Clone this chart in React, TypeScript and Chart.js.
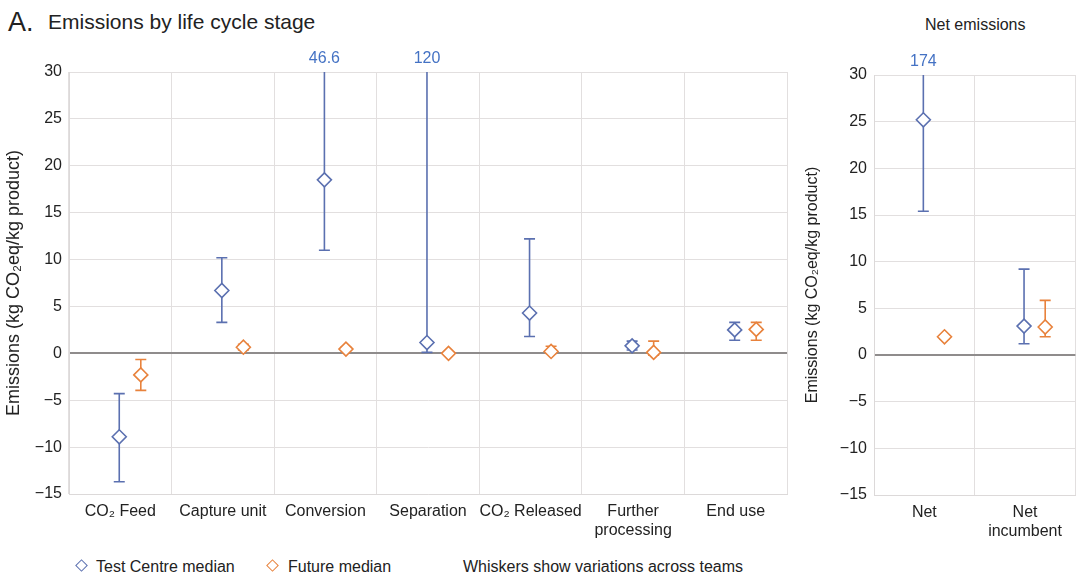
import React, { useEffect, useRef } from "react";
import { Chart, registerables } from "chart.js";
Chart.register(...registerables);

// ---------- Data ----------
const stageLabels = [["CO₂ Feed"], ["Capture unit"], ["Conversion"], ["Separation"], ["CO₂ Released"], ["Further", "processing"], ["End use"]];
const testMedian = [-8.9, 6.7, 18.5, 1.15, 4.3, 0.8, 2.5];
const testLow = [-13.7, 3.3, 11.0, 0.1, 1.8, 0.35, 1.4];
const testHigh = [-4.3, 10.2, 46.6, 120, 12.2, 1.3, 3.3];
const futureMedian = [-2.3, 0.65, 0.45, 0.0, 0.2, 0.1, 2.55];
const futureLow = [-3.95, 0.35, 0.3, -0.1, 0.0, -0.2, 1.4];
const futureHigh = [-0.65, 0.95, 0.65, 0.1, 0.75, 1.3, 3.3];

const netLabels = [["Net"], ["Net", "incumbent"]];
const netTestMedian = [25.2, 3.1];
const netTestLow = [15.4, 1.2];
const netTestHigh = [174, 9.2];
const netFutureMedian = [1.95, 3.0];
const netFutureLow = [1.75, 1.95];
const netFutureHigh = [2.15, 5.85];

const yMin = -15;
const yMax = 30;
const yStep = 5;

const BLUE = "#5b70b0";
const ORANGE = "#e8823c";
const LABEL_BLUE = "#4472c4";
const FONT = "'Liberation Sans', Arial, Helvetica, sans-serif";

Chart.defaults.font.family = FONT;

const whiskerPlugin = {
  id: "whiskers",
  beforeDatasetsDraw(chart: any) {
    const { ctx, chartArea, scales } = chart;
    const ys = scales.y;
    const xs = scales.xd;
    chart.data.datasets.forEach((ds: any) => {
      ds.data.forEach((pt: any) => {
        const px = xs.getPixelForValue(pt.x);
        const lo = Math.max(pt.low, yMin);
        const hi = Math.min(pt.high, yMax);
        const yLo = ys.getPixelForValue(lo);
        const yHi = ys.getPixelForValue(hi);
        ctx.save();
        ctx.strokeStyle = ds.borderColor;
        ctx.lineWidth = 1.6;
        ctx.beginPath();
        ctx.moveTo(px, yLo);
        ctx.lineTo(px, yHi);
        if (pt.low >= yMin) {
          ctx.moveTo(px - 5.5, yLo);
          ctx.lineTo(px + 5.5, yLo);
        }
        if (pt.high <= yMax) {
          ctx.moveTo(px - 5.5, yHi);
          ctx.lineTo(px + 5.5, yHi);
        }
        ctx.stroke();
        if (pt.high > yMax) {
          ctx.fillStyle = LABEL_BLUE;
          ctx.font = `16px ${FONT}`;
          ctx.textAlign = "center";
          ctx.textBaseline = "bottom";
          ctx.fillText(String(pt.high), px, chartArea.top - 5);
        }
        ctx.restore();
      });
    });
  },
};

function buildPoints(med: number[], low: number[], high: number[], offset: number) {
  return med.map((v, i) => ({ x: i + offset, y: v, low: low[i], high: high[i] }));
}

function makeConfig(
  labels: string[][],
  tMed: number[], tLow: number[], tHigh: number[],
  fMed: number[], fLow: number[], fHigh: number[],
  yWidth: number, xHeight: number, padTop: number, padRight: number, titleSize: number
): any {
  const n = labels.length;
  const pointStyle = {
    pointStyle: "rectRot",
    pointRadius: 7,
    pointBorderWidth: 1.6,
    pointBackgroundColor: "#ffffff",
    showLine: false,
    xAxisID: "xd",
    yAxisID: "y",
  };
  return {
    type: "scatter",
    data: {
      datasets: [
        { label: "Test Centre median", data: buildPoints(tMed, tLow, tHigh, 0.49), borderColor: BLUE, pointBorderColor: BLUE, ...pointStyle },
        { label: "Future median", data: buildPoints(fMed, fLow, fHigh, 0.7), borderColor: ORANGE, pointBorderColor: ORANGE, ...pointStyle },
      ],
    },
    options: {
      animation: false,
      responsive: false,
      devicePixelRatio: 1,
      layout: { padding: { top: padTop, right: padRight, left: 0, bottom: 0 } },
      plugins: { legend: { display: false }, tooltip: { enabled: false } },
      scales: {
        x: {
          type: "category",
          labels: labels,
          offset: true,
          position: "bottom",
          grid: { offset: true, color: "#e2dfdf", lineWidth: 1, drawTicks: false },
          border: { color: "#dcd9d9" },
          ticks: { color: "#222", font: { size: 16, lineHeight: 1.2 }, padding: 8, maxRotation: 0, autoSkip: false },
          afterFit: (s: any) => { s.height = xHeight; },
        },
        xd: { type: "linear", min: 0, max: n, display: false },
        y: {
          type: "linear",
          min: yMin,
          max: yMax,
          ticks: {
            stepSize: yStep,
            color: "#222",
            font: { size: 16 },
            padding: 7,
            callback: (v: any) => String(v).replace("-", "−"),
          },
          grid: {
            drawTicks: false,
            color: (c: any) => (c.tick && c.tick.value === 0 ? "#8f8c8c" : "#e2dfdf"),
            lineWidth: (c: any) => (c.tick && c.tick.value === 0 ? 2 : 1),
          },
          border: { color: "#dcd9d9" },
          title: {
            display: true,
            text: "Emissions (kg CO₂eq/kg product)",
            color: "#222",
            font: { size: titleSize },
            padding: { top: 3, bottom: 3 },
          },
          afterFit: (s: any) => { s.width = yWidth; },
        },
      },
    },
    plugins: [whiskerPlugin],
  };
}

function ChartCanvas(props: { config: () => any; left: number; top: number; width: number; height: number }) {
  const ref = useRef<HTMLCanvasElement | null>(null);
  useEffect(() => {
    if (!ref.current) return;
    const chart = new Chart(ref.current, props.config());
    return () => chart.destroy();
  }, []);
  return (
    <canvas
      ref={ref}
      width={props.width}
      height={props.height}
      style={{ position: "absolute", left: props.left, top: props.top, width: props.width, height: props.height }}
    />
  );
}

function Diamond({ color }: { color: string }) {
  return (
    <span
      style={{
        display: "block",
        width: 7,
        height: 7,
        border: `1.6px solid ${color}`,
        transform: "rotate(45deg)",
        background: "#fff",
      }}
    />
  );
}

export default function App() {
  const textStyle: React.CSSProperties = { position: "absolute", fontFamily: FONT, color: "#222", whiteSpace: "nowrap" };
  return (
    <div style={{ position: "fixed", left: 0, top: 0, width: 1081, height: 575, overflow: "hidden", background: "#fff" }}>
      <div style={{ ...textStyle, left: 8, top: 6, fontSize: 27, lineHeight: "32px" }}>A.</div>
      <div style={{ ...textStyle, left: 48, top: 9, fontSize: 21, lineHeight: "26px" }}>Emissions by life cycle stage</div>
      <div style={{ ...textStyle, left: 925, top: 15, fontSize: 16, lineHeight: "19px" }}>Net emissions</div>

      <ChartCanvas
        left={0}
        top={0}
        width={800}
        height={545}
        config={() => makeConfig(stageLabels, testMedian, testLow, testHigh, futureMedian, futureLow, futureHigh, 69, 51, 72, 13, 18)}
      />
      <ChartCanvas
        left={800}
        top={0}
        width={284}
        height={545}
        config={() => makeConfig(netLabels, netTestMedian, netTestLow, netTestHigh, netFutureMedian, netFutureLow, netFutureHigh, 74, 50, 75, 2, 16)}
      />

      <div style={{ position: "absolute", left: 77, top: 561 }}><Diamond color={BLUE} /></div>
      <div style={{ ...textStyle, left: 96, top: 557, fontSize: 16, lineHeight: "19px" }}>Test Centre median</div>
      <div style={{ position: "absolute", left: 268, top: 561 }}><Diamond color={ORANGE} /></div>
      <div style={{ ...textStyle, left: 288, top: 557, fontSize: 16, lineHeight: "19px" }}>Future median</div>
      <div style={{ ...textStyle, left: 463, top: 557, fontSize: 16, lineHeight: "19px" }}>Whiskers show variations across teams</div>
    </div>
  );
}
